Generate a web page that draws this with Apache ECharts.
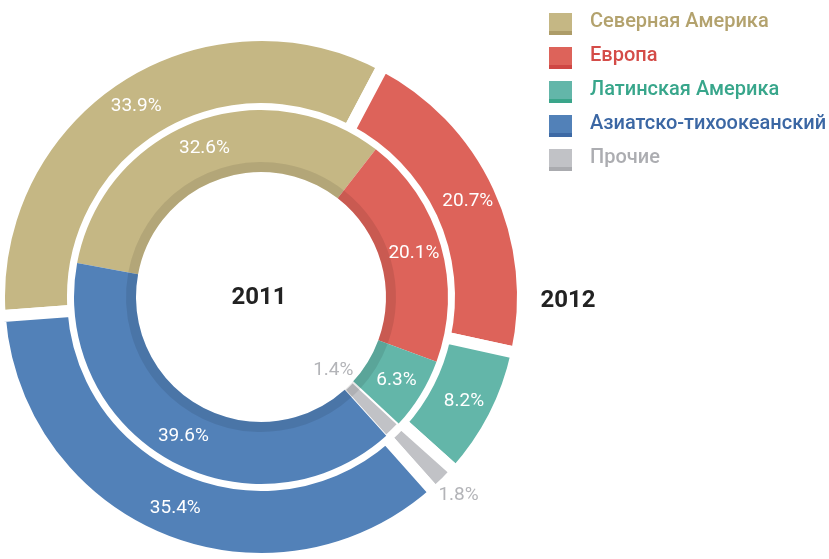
<!DOCTYPE html>
<html>
<head>
<meta charset="utf-8">
<script src="https://cdn.jsdelivr.net/npm/echarts@6/dist/echarts.min.js"></script>
<style>
  html, body { margin: 0; padding: 0; background: #fff; }
  #chart { width: 829px; height: 559px; }
</style>
</head>
<body>
<div id="chart"></div>
<script>
// регионы по часовой стрелке
const regions = ["Северная Америка", "Европа", "Латинская Америка", "Прочие", "Азиатско-тихоокеанский"];
const legendOrder = ["Северная Америка", "Европа", "Латинская Америка", "Азиатско-тихоокеанский", "Прочие"];
const values2011 = [32.6, 20.1, 6.3, 1.4, 39.6];
const values2012 = [33.9, 20.7, 8.2, 1.8, 35.4];
const colors = ["#c5b784", "#dd635a", "#63b6a9", "#c1c2c6", "#5281b8"];
const darkColors = ["#ad9c68", "#cf4744", "#3aa58a", "#aaabaf", "#3e6aa5"];
const textColors = ["#b3a26d", "#d44c48", "#38a68b", "#acadb1", "#3b67a4"];

const center = [261, 297];
const labelFont = "Roboto";
const labelSize = 19;
const smallColor = "#b3b4b8";

let chart = echarts.init(document.getElementById("chart"));

function ringData(values, isOuter) {
  return regions.map((name, i) => {
    let item = {
      name: name,
      value: values[i],
      itemStyle: { color: colors[i] },
    };
    if (name === "Прочие") {
      item.label = { show: false };
      if (!isOuter) {
        item.itemStyle.borderColor = "#fff";
        item.itemStyle.borderWidth = 2;
      }
    }
    return item;
  });
}

// прозрачное кольцо только для подписи «Прочие»
function otherLabelSeries(name, values, radius, startAngle) {
  return {
    name: name,
    type: "pie",
    center: center,
    radius: radius,
    startAngle: startAngle,
    silent: true,
    avoidLabelOverlap: false,
    itemStyle: { color: "rgba(0,0,0,0)" },
    labelLine: { show: false },
    data: regions.map((n, i) => ({
      name: n,
      value: values[i],
      label: {
        show: n === "Прочие",
        position: "inside",
        formatter: "{c}%",
        color: smallColor,
        fontFamily: labelFont,
        fontSize: labelSize,
      },
    })),
  };
}

const startOuter = 184.2;
const startInner = 169.5;

let option = {
  animation: false,
  title: [
    {
      text: "2011",
      left: 254,
      top: 281,
      textAlign: "center",
      textStyle: { fontFamily: "Roboto", fontWeight: "bold", fontSize: 24, color: "#222" },
    },
    {
      text: "2012",
      left: 563,
      top: 284,
      textAlign: "center",
      textStyle: { fontFamily: "Roboto", fontWeight: "bold", fontSize: 24, color: "#222" },
    },
  ],
  legend: {
    orient: "vertical",
    left: 549,
    top: 12,
    padding: 0,
    icon: "rect",
    itemWidth: 23,
    itemHeight: 18,
    itemGap: 14,
    selectedMode: false,
    textStyle: { fontFamily: "Roboto", fontWeight: 500, fontSize: 20, padding: [0, 0, 0, 13] },
    data: legendOrder.map((name) => {
      let i = regions.indexOf(name);
      return {
        name: name,
        itemStyle: {
          color: colors[i],
          borderWidth: 0,
          shadowColor: darkColors[i],
          shadowOffsetY: 4,
          shadowBlur: 0,
        },
        textStyle: { color: textColors[i] },
      };
    }),
  },
  series: [
    {
      name: "2012",
      type: "pie",
      center: center,
      radius: [188, 262],
      startAngle: startOuter,
      avoidLabelOverlap: false,
      itemStyle: { borderColor: "#fff", borderWidth: 12 },
      label: {
        show: true,
        position: "inside",
        formatter: "{c}%",
        color: "#fff",
        fontFamily: labelFont,
        fontSize: labelSize,
      },
      labelLine: { show: false },
      emphasis: { disabled: true },
      data: ringData(values2012, true),
    },
    {
      name: "2011",
      type: "pie",
      center: center,
      radius: [125, 187],
      startAngle: startInner,
      avoidLabelOverlap: false,
      label: {
        show: true,
        position: "inside",
        formatter: "{c}%",
        color: "#fff",
        fontFamily: labelFont,
        fontSize: labelSize,
      },
      labelLine: { show: false },
      emphasis: { disabled: true },
      data: ringData(values2011, false),
    },
    {
      // тёмная полоса по внутреннему краю
      name: "band",
      type: "pie",
      center: center,
      radius: [125, 135],
      startAngle: startInner,
      silent: true,
      label: { show: false },
      labelLine: { show: false },
      itemStyle: { color: "rgba(0,0,0,0.09)" },
      data: regions.map((name, i) => ({ name: name, value: values2011[i] })),
    },
    otherLabelSeries("other2011", values2011, [75, 125], startInner),
    otherLabelSeries("other2012", values2012, [250, 304], startOuter),
  ],
};

chart.setOption(option);
</script>
</body>
</html>
